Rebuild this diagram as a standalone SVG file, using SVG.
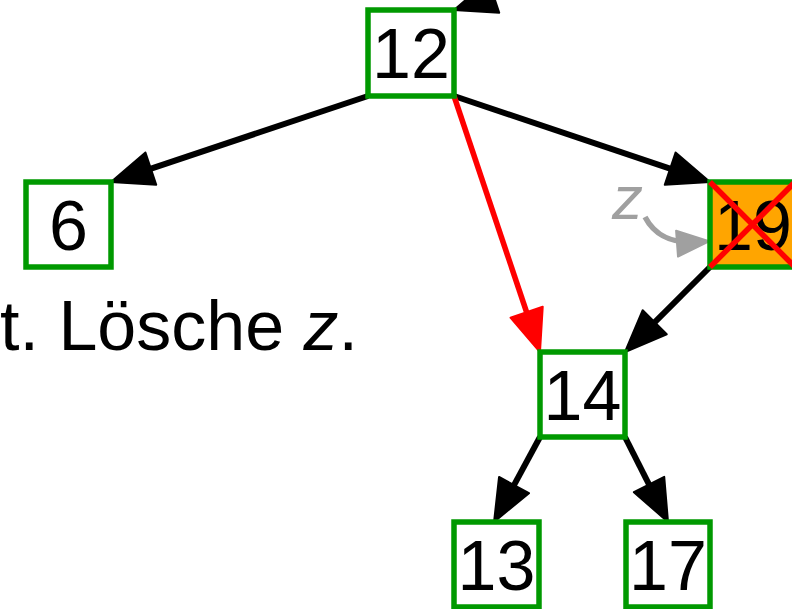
<svg xmlns="http://www.w3.org/2000/svg" width="792" height="609" viewBox="0 0 792 609">
<style>
.box{fill:#fff;stroke:#009900;stroke-width:5.5}
.num{font-family:"Liberation Sans",Arial,sans-serif;font-size:70px;fill:#000;text-anchor:middle}
.edge{fill:none;stroke:#000;stroke-width:6}
.red{fill:none;stroke:#ff0000;stroke-width:5.5}
.gray{fill:none;stroke:#a0a0a0;stroke-width:5.5}
</style>
<defs>
<marker id="ah" markerUnits="userSpaceOnUse" markerWidth="60" markerHeight="60" refX="0" refY="0" viewBox="-40 -20 60 40" orient="auto" overflow="visible">
<path d="M10,0 L-32,-17 L-32,17 Z" fill="#000" stroke="#000" stroke-width="2" stroke-linejoin="round"/>
</marker>
<marker id="ahr" markerUnits="userSpaceOnUse" markerWidth="60" markerHeight="60" refX="0" refY="0" viewBox="-40 -20 60 40" orient="auto" overflow="visible">
<path d="M10,0 L-32,-17 L-32,17 Z" fill="#ff0000" stroke="#ff0000" stroke-width="2" stroke-linejoin="round"/>
</marker>
<marker id="ahg" markerUnits="userSpaceOnUse" markerWidth="60" markerHeight="60" refX="0" refY="0" viewBox="-40 -20 60 40" orient="auto" overflow="visible">
<path d="M10,0 L-22,-13 L-22,13 Z" fill="#a0a0a0" stroke="#a0a0a0" stroke-width="2" stroke-linejoin="round"/>
</marker>
</defs>
<g id="connectors">
<path class="edge" d="M738,-85 L463.5,6.8" marker-end="url(#ah)"/>
<path class="edge" d="M368,96 L120.5,178.8" marker-end="url(#ah)"/>
<path class="edge" d="M454,96 L700.5,178.8" marker-end="url(#ah)"/>
<path class="red" d="M454,96 L536.8,342.5" marker-end="url(#ahr)"/>
<path class="edge" d="M710,267 L632.1,344.9" marker-end="url(#ah)"/>
<path class="edge" d="M540,437 L498.8,513.2" marker-end="url(#ah)"/>
<path class="edge" d="M625,437 L663.5,513.1" marker-end="url(#ah)"/>
<path class="gray" d="M645,217 C655,236 672,244 699,242" marker-end="url(#ahg)"/>
</g>
<g id="n12"><rect class="box" x="368" y="10" width="86" height="86"/><text class="num" x="411" y="78">12</text></g>
<g id="n6"><rect class="box" x="26" y="182" width="85" height="85"/><text class="num" x="68.5" y="250">6</text></g>
<g id="n19"><rect class="box" x="710" y="182" width="85" height="85" style="fill:#ffa500"/><text class="num" x="753" y="250">19</text>
<path d="M710,182 L795,267 M710,267 L795,182" stroke="#ff0000" stroke-width="5.5"/></g>
<g id="n14"><rect class="box" x="540" y="352" width="85" height="85"/><text class="num" x="582.5" y="420">14</text></g>
<g id="n13"><rect class="box" x="454" y="522" width="85" height="85"/><text class="num" x="496.5" y="590">13</text></g>
<g id="n17"><rect class="box" x="626" y="522" width="84" height="85"/><text class="num" x="668" y="590">17</text></g>
<g id="labels">
<text x="612" y="219" font-family="Liberation Sans,Arial,sans-serif" font-size="62" font-style="italic" fill="#a0a0a0">z</text>
<text x="358" y="350" font-family="Liberation Sans,Arial,sans-serif" font-size="70" text-anchor="end" fill="#000">t. Lösche <tspan font-style="italic">z</tspan>.</text>
</g>
</svg>
